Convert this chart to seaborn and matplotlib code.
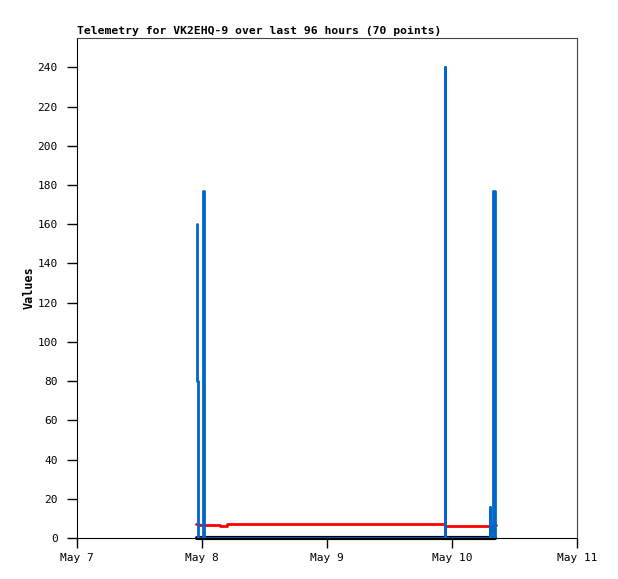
import pandas as pd
import numpy as np
import matplotlib
matplotlib.use("Agg")
import matplotlib.pyplot as plt
import seaborn as sns

# ---------------------------------------------------------------
# DATA (hours after May 7 00:00)
# ---------------------------------------------------------------
START = pd.Timestamp("2024-05-07 00:00")

blue_hours  = [23.00, 23.12, 23.20, 24.15, 24.30, 70.60, 70.72, 79.28, 79.36, 79.95, 80.22]
blue_values = [160, 80, 0, 177, 0, 240, 0, 16, 0, 177, 0]

red_hours  = [22.85, 23.40, 24.20, 25.50, 27.40, 28.75, 70.65, 79.20, 79.45, 79.60, 80.40]
red_values = [7.2, 6.8, 6.7, 6.4, 6.0, 7.0, 6.0, 3.7, 3.7, 6.8, 6.8]

black_hours  = [23.00, 80.30]
black_values = [0, 0]

tick_labels = ["May 7", "May 8", "May 9", "May 10", "May 11"]

def frame(hours, values):
    return pd.DataFrame({"time": START + pd.to_timedelta(hours, unit="h"),
                         "value": values})

blue_df = frame(blue_hours, blue_values)
red_df = frame(red_hours, red_values)
black_df = frame(black_hours, black_values)

# ---------------------------------------------------------------
# PLOT
# ---------------------------------------------------------------
sns.set_style("ticks")
plt.rcParams["font.family"] = ["DejaVu Sans Mono"]
plt.rcParams["text.color"] = "black"
plt.rcParams["axes.labelcolor"] = "black"
plt.rcParams["xtick.color"] = "black"
plt.rcParams["ytick.color"] = "black"

fig = plt.figure(figsize=(6.18, 5.79), dpi=100)
ax = fig.add_axes([77 / 618, 41 / 579, 500 / 618, 500 / 579])

sns.lineplot(data=black_df, x="time", y="value", color="black", lw=3,
             clip_on=False, ax=ax)
sns.lineplot(data=red_df, x="time", y="value", color="#ff0000", lw=2,
             drawstyle="steps-post", ax=ax)
sns.lineplot(data=blue_df, x="time", y="value", color="#0066cc", lw=2,
             drawstyle="steps-post", ax=ax)

ticks = [START + pd.Timedelta(days=i) for i in range(len(tick_labels))]
ax.set_xlim(ticks[0], ticks[-1])
ax.set_xticks(ticks)
ax.set_xticklabels(tick_labels, fontsize=8)
ax.set_ylim(0, 255)
ax.set_yticks(range(0, 241, 20))
ax.tick_params(axis="y", labelsize=8, length=7, width=1, pad=7)
ax.tick_params(axis="x", length=7, width=1, pad=4)

ax.set_xlabel("")
ax.set_ylabel("Values", fontsize=8.5, fontweight="bold", labelpad=1)
ax.set_title("Telemetry for VK2EHQ-9 over last 96 hours (70 points)",
             fontsize=8.2, fontweight="bold", loc="left", pad=3)

for side in ["top", "right"]:
    ax.spines[side].set_color("#444444")
for side in ["left", "bottom"]:
    ax.spines[side].set_color("black")

fig.savefig("out.png", dpi=100)
